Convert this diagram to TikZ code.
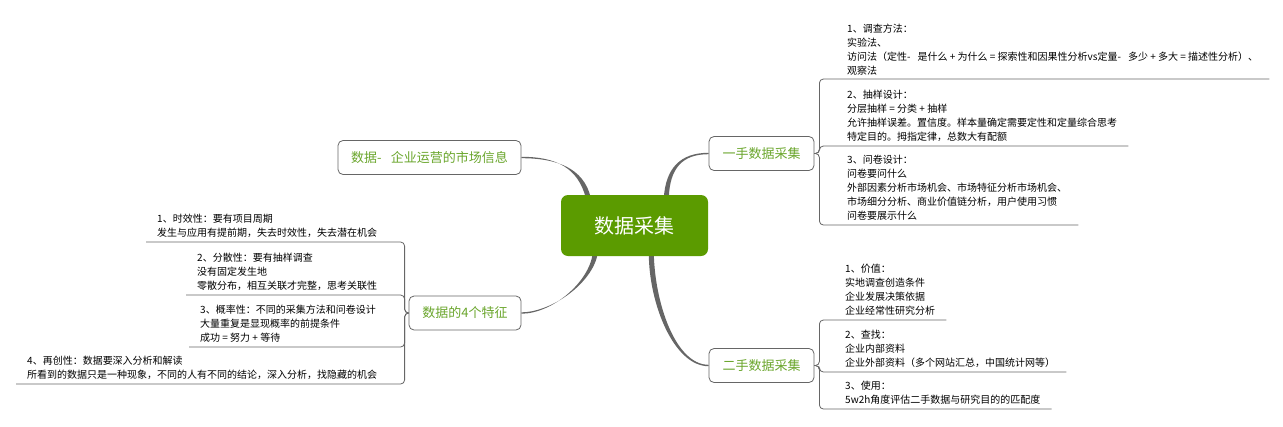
\documentclass[tikz,border=0pt]{standalone}
\usepackage{fontspec}
\setmainfont{Noto Sans CJK SC}
\usetikzlibrary{calc}
\definecolor{rootgreen}{HTML}{5B9B00}
\definecolor{topicgreen}{HTML}{6AA62C}
\definecolor{linegray}{HTML}{666666}
\pgfdeclarelayer{background}
\pgfsetlayers{background,main}

\begin{document}
\begin{tikzpicture}[x=1pt, y=-1pt,
    root/.style={fill=rootgreen, rounded corners=7pt, minimum width=147pt, minimum height=61pt, text=white, font=\fontsize{20}{24}\selectfont},
    topic/.style={draw=linegray, line width=0.8pt, fill=white, rounded corners=5pt, minimum width=#1, minimum height=34pt, inner xsep=12pt, text=topicgreen, font=\fontsize{13}{16}\selectfont},
    leaf/.style={anchor=south west, align=left, inner xsep=11pt, inner ysep=4pt, font=\fontsize{10}{14}\selectfont},
    bracket/.style={draw=linegray, line width=0.8pt, rounded corners=4pt},
    branch/.style={fill=linegray}
]
\useasboundingbox (0,0) rectangle (1283,426);

% main topics
\node[root] (root) at (634.5,225.5) {数据采集};
\node[topic=183pt] (info) at (429.5,157.5) {数据-\hspace{9pt}企业运营的市场信息};
\node[topic=105pt] (first) at (761.5,153.5) {一手数据采集};
\node[topic=112pt] (feat) at (465,313) {数据的4个特征};
\node[topic=105pt] (second) at (761.5,365.5) {二手数据采集};

% 一手数据采集
\node[leaf] (method) at (836,79) {1、调查方法：\\实验法、\\访问法（定性-\hspace{7pt}是什么 + 为什么 = 探索性和因果性分析vs定量-\hspace{7pt}多少 + 多大 = 描述性分析）、\\观察法};
\node[leaf] (sample) at (836,146) {2、抽样设计：\\分层抽样 = 分类 + 抽样\\允许抽样误差。置信度。样本量确定需要定性和定量综合思考\\特定目的。拇指定律，总数大有配额};
\node[leaf] (quest) at (836,225) {3、问卷设计：\\问卷要问什么\\外部因素分析市场机会、市场特征分析市场机会、\\市场细分分析、商业价值链分析，用户使用习惯\\问卷要展示什么};

% 二手数据采集
\node[leaf] (value) at (834,320) {1、价值：\\实地调查创造条件\\企业发展决策依据\\企业经常性研究分析};
\node[leaf] (search) at (834,372) {2、查找：\\企业内部资料\\企业外部资料（多个网站汇总，中国统计网等）};
\node[leaf] (usage) at (834,409) {3、使用：\\5w2h角度评估二手数据与研究目的的匹配度};

% 数据的4个特征
\node[leaf] (timely) at (146,242) {1、时效性：要有项目周期\\发生与应用有提前期，失去时效性，失去潜在机会};
\node[leaf] (spread) at (186,295) {2、分散性：要有抽样调查\\没有固定发生地\\零散分布，相互关联才完整，思考关联性};
\node[leaf] (chance) at (189,347) {3、概率性：不同的采集方法和问卷设计\\大量重复是显现概率的前提条件\\成功 = 努力 + 等待};
\node[leaf] (recreate) at (16,384) {4、再创性：数据要深入分析和解读\\所看到的数据只是一种现象，不同的人有不同的结论，深入分析，找隐藏的机会};

% brackets
\foreach \n in {method, sample, quest}
  \draw[bracket] (first.east) -- ++(5,0) |- (\n.south east);
\foreach \n in {value, search, usage}
  \draw[bracket] (second.east) -- ++(5,0) |- (\n.south east);
\foreach \n in {timely, spread, chance, recreate}
  \draw[bracket] (feat.west) -- ++(-4,0) |- (\n.south west);

% tapered branches
\begin{pgfonlayer}{background}
\fill[branch] ($(root.north west)+(25,3)$) .. controls +(-8,-30) and +(35,0) .. ($(info.east)+(0,-0.7)$) -- ($(info.east)+(0,0.7)$) .. controls +(35,0) and +(-7,-30) .. ($(root.north west)+(30,3)$) -- cycle;
\fill[branch] ($(root.north west)+(103,3)$) .. controls +(2,-30) and +(-28,0) .. ($(first.west)+(0,-0.7)$) -- ($(first.west)+(0,0.7)$) .. controls +(-26,0) and +(1,-30) .. ($(root.north west)+(108,3)$) -- cycle;
\fill[branch] ($(root.south west)+(32,-3)$) .. controls +(-4,30) and +(30,0) .. ($(feat.east)+(0,0.7)$) -- ($(feat.east)+(0,-0.7)$) .. controls +(30,0) and +(-5,30) .. ($(root.south west)+(37,-3)$) -- cycle;
\fill[branch] ($(root.south west)+(88,-3)$) .. controls +(0,50) and +(-35,0) .. ($(second.west)+(0,0.7)$) -- ($(second.west)+(0,-0.7)$) .. controls +(-33,0) and +(1,50) .. ($(root.south west)+(93,-3)$) -- cycle;
\end{pgfonlayer}
\end{tikzpicture}
\end{document}
